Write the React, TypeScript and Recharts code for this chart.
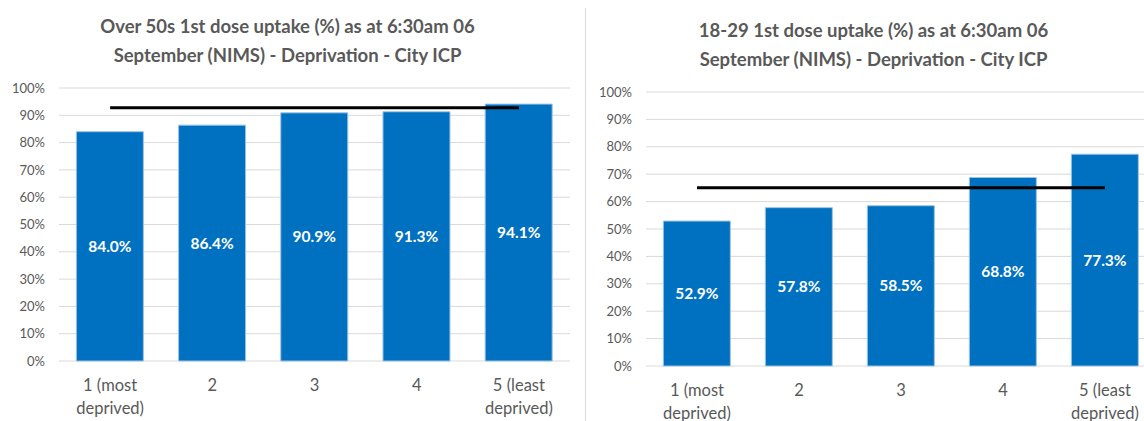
import React from 'react';
import { ComposedChart, Bar, Line, XAxis, YAxis, CartesianGrid, LabelList } from 'recharts';

const categories = ['1 (most\ndeprived)', '2', '3', '4', '5 (least\ndeprived)'];
const over50Uptake = [84.0, 86.4, 90.9, 91.3, 94.1];
const over50Average = 92.8;
const age1829Uptake = [52.9, 57.8, 58.5, 68.8, 77.3];
const age1829Average = 65.1;
const yTicks = [0, 10, 20, 30, 40, 50, 60, 70, 80, 90, 100];

const FONT = 'Lato, "Open Sans", sans-serif';
const GREY = '#595959';

const buildRows = (values: number[], avg: number) =>
    categories.map((name, i) => ({ name, value: values[i], avg }));

const CategoryTick = (props: any) => {
    const { x, y, payload } = props;
    const lines = String(payload.value).split('\n');
    return (
        <text x={x} y={y} textAnchor="middle" fill={GREY} fontSize={16.5} fontFamily={FONT}>
            {lines.map((l, i) => (
                <tspan key={i} x={x} dy={i === 0 ? 22 : 23}>{l}</tspan>
            ))}
        </text>
    );
};

interface PanelProps {
    title: string[];
    values: number[];
    avg: number;
    left: number;
    top: number;
    bottom: number;
    axisWidth: number;
}

const Panel: React.FC<PanelProps> = ({ title, values, avg, left, top, bottom, axisWidth }) => (
    <div style={{ position: 'absolute', left, top: 0, width: 575, height: 421 }}>
        <div style={{
            position: 'absolute', top: top - 76, left: 0, width: 575, textAlign: 'center',
            fontFamily: FONT, fontWeight: 700, fontSize: 18.5, lineHeight: '29px', color: GREY
        }}>
            {title.map((t, i) => <div key={i}>{t}</div>)}
        </div>
        <ComposedChart width={575} height={421} data={buildRows(values, avg)}
            margin={{ top, right: 5, bottom: 0, left: 0 }} barCategoryGap="17%">
            <CartesianGrid vertical={false} stroke="#d9d9d9" />
            <XAxis dataKey="name" axisLine={false} tickLine={false} interval={0}
                tick={<CategoryTick />} height={bottom} />
            <YAxis domain={[0, 100]} ticks={yTicks} width={axisWidth} axisLine={false} tickLine={false}
                tickMargin={8} tickFormatter={(v) => `${v}%`}
                tick={{ fill: GREY, fontSize: 13, fontFamily: FONT }} interval={0} />
            <Bar dataKey="value" fill="#0070C0" stroke="#9DC3E6" strokeWidth={1} isAnimationActive={false}>
                <LabelList dataKey="value" position="center" fill="#ffffff" fontSize={15.5}
                    fontWeight={700} fontFamily={FONT} formatter={(v: any) => `${Number(v).toFixed(1)}%`} />
            </Bar>
            <Line dataKey="avg" type="linear" stroke="#000000" strokeWidth={3} dot={false}
                activeDot={false} isAnimationActive={false} />
        </ComposedChart>
    </div>
);

export default function App() {
    return (
        <div style={{ position: 'absolute', left: 0, top: 0, width: 1144, height: 421, overflow: 'hidden', background: '#fff' }}>
            <Panel title={['Over 50s 1st dose uptake (%) as at 6:30am 06', 'September (NIMS) - Deprivation - City ICP']}
                values={over50Uptake} avg={over50Average} left={0} top={88} bottom={60} axisWidth={59} />
            <div style={{ position: 'absolute', left: 585, top: 8, width: 1, height: 413, background: '#d9d9d9' }} />
            <Panel title={['18-29 1st dose uptake (%) as at 6:30am 06', 'September (NIMS) - Deprivation - City ICP']}
                values={age1829Uptake} avg={age1829Average} left={586} top={92} bottom={55} axisWidth={60} />
        </div>
    );
}
